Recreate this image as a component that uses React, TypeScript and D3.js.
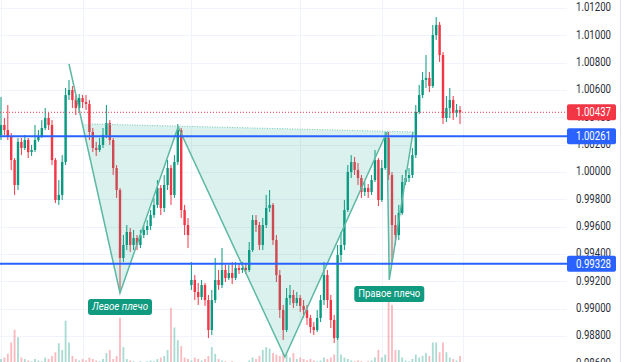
import React from 'react';
import * as d3 from 'd3';

const W = 625;
const H = 362;

const opens = [1.00271,1.00344,1.00307,1.00256,1.00088,0.99905,1.00220,1.00176,1.00234,1.00146,1.00161,1.00234,1.00263,1.00322,1.00395,1.00344,1.00088,0.99795,0.99832,1.00073,1.00563,1.00600,1.00527,1.00468,1.00541,1.00512,1.00498,1.00293,1.00176,1.00161,1.00198,1.00271,1.00359,1.00234,1.00029,0.99868,0.99371,0.99466,0.99561,0.99466,0.99517,0.99466,0.99539,0.99576,0.99605,0.99685,0.99759,0.99883,0.99737,0.99905,1.00029,0.99832,1.00073,1.00307,0.99722,0.99612,0.99173,0.99210,0.99122,0.99085,0.99173,0.99063,0.98844,0.99063,0.99210,0.99173,0.99283,0.99224,0.99261,0.99224,0.99298,0.99283,0.99298,0.99283,0.99429,0.99649,0.99612,0.99466,0.99612,0.99737,0.99759,0.99502,0.99246,0.98990,0.98844,0.99078,0.99100,0.99041,0.99078,0.99020,0.98990,0.98932,0.98866,0.98844,0.98932,0.99063,0.99246,0.99063,0.98917,0.98785,0.99393,0.99466,0.99722,1.00000,1.00073,1.00015,0.99956,0.99854,0.99883,0.99854,0.99941,1.00088,0.99795,1.00029,1.00249,0.99978,0.99612,0.99539,0.99700,0.99927,0.99956,0.99978,1.00124,1.00439,1.00563,1.00673,1.00688,1.00629,1.01002,1.01076,1.00856,1.00395,1.00468,1.00527,1.00432,1.00454];
const highs = [1.00549,1.00395,1.00490,1.00285,1.00102,1.00249,1.00249,1.00271,1.00249,1.00198,1.00344,1.00307,1.00380,1.00468,1.00432,1.00380,1.00102,0.99941,1.00124,1.00615,1.00673,1.00629,1.00563,1.00571,1.00563,1.00563,1.00527,1.00322,1.00220,1.00249,1.00322,1.00490,1.00380,1.00249,1.00051,0.99883,0.99539,0.99612,0.99590,0.99576,0.99539,0.99576,0.99612,0.99649,0.99722,0.99810,0.99941,0.99905,0.99978,1.00088,1.00051,1.00124,1.00351,1.00322,0.99759,0.99663,0.99341,0.99246,0.99188,0.99210,0.99188,0.99100,0.99137,0.99371,0.99283,0.99444,0.99320,0.99320,0.99341,0.99341,0.99327,0.99341,0.99327,0.99488,0.99685,0.99685,0.99634,0.99663,0.99832,0.99868,0.99773,0.99539,0.99283,0.99027,0.99151,0.99173,0.99137,0.99122,0.99100,0.99063,0.99027,0.98954,0.98902,0.98990,0.99100,0.99341,0.99283,0.99100,0.98954,0.99466,0.99561,0.99795,1.00051,1.00124,1.00110,1.00066,0.99978,0.99927,0.99912,0.99978,1.00161,1.00102,1.00088,1.00293,1.00293,1.00000,0.99685,0.99759,0.99978,1.00015,1.00029,1.00176,1.00490,1.00637,1.00732,1.00856,1.00732,1.01076,1.01134,1.01098,1.00878,1.00556,1.00615,1.00556,1.00498,1.00483];
const lows = [1.00234,1.00271,1.00234,1.00015,0.99832,0.99868,1.00124,1.00161,1.00102,1.00117,1.00146,1.00220,1.00249,1.00307,1.00307,1.00051,0.99773,0.99759,0.99795,1.00051,1.00527,1.00468,1.00417,1.00439,1.00468,1.00454,1.00234,1.00146,1.00117,1.00146,1.00176,1.00249,1.00198,0.99978,0.99810,0.99115,0.99341,0.99429,0.99415,0.99429,0.99429,0.99444,0.99517,0.99539,0.99576,0.99663,0.99737,0.99685,0.99707,0.99868,0.99759,0.99810,1.00051,0.99663,0.99539,0.99444,0.99137,0.99063,0.99027,0.99063,0.99020,0.98785,0.98807,0.99041,0.99137,0.99151,0.99195,0.99210,0.99180,0.99210,0.99254,0.99261,0.99254,0.99268,0.99415,0.99561,0.99429,0.99429,0.99590,0.99707,0.99466,0.99195,0.98932,0.98771,0.98829,0.99027,0.99005,0.99020,0.98976,0.98932,0.98881,0.98822,0.98807,0.98829,0.98902,0.99027,0.99005,0.98859,0.98749,0.98771,0.99341,0.99429,0.99707,0.99956,0.99978,0.99905,0.99810,0.99824,0.99810,0.99832,0.99927,0.99751,0.99781,1.00015,0.99941,0.99341,0.99466,0.99502,0.99685,0.99905,0.99927,0.99956,1.00102,1.00424,1.00541,1.00615,1.00585,1.00615,1.00966,1.00805,1.00351,1.00366,1.00395,1.00380,1.00402,1.00351];
const closes = [1.00344,1.00307,1.00256,1.00088,0.99905,1.00220,1.00176,1.00234,1.00146,1.00161,1.00234,1.00263,1.00322,1.00395,1.00344,1.00088,0.99795,0.99832,1.00073,1.00563,1.00600,1.00527,1.00468,1.00541,1.00512,1.00498,1.00293,1.00176,1.00161,1.00198,1.00271,1.00359,1.00234,1.00029,0.99868,0.99371,0.99466,0.99561,0.99466,0.99517,0.99466,0.99539,0.99576,0.99605,0.99685,0.99759,0.99883,0.99737,0.99905,1.00029,0.99832,1.00073,1.00307,0.99722,0.99612,0.99539,0.99210,0.99122,0.99085,0.99173,0.99063,0.98844,0.99063,0.99210,0.99173,0.99283,0.99224,0.99261,0.99224,0.99298,0.99283,0.99298,0.99283,0.99429,0.99649,0.99612,0.99466,0.99612,0.99737,0.99759,0.99502,0.99246,0.98990,0.98844,0.99078,0.99100,0.99041,0.99078,0.99020,0.98990,0.98932,0.98866,0.98844,0.98932,0.99063,0.99246,0.99063,0.98917,0.98785,0.99393,0.99466,0.99722,1.00000,1.00073,1.00015,0.99956,0.99854,0.99883,0.99854,0.99941,1.00088,0.99795,1.00029,1.00249,0.99978,0.99612,0.99539,0.99700,0.99927,0.99956,0.99978,1.00124,1.00439,1.00563,1.00673,1.00688,1.00629,1.01002,1.01076,1.00856,1.00395,1.00468,1.00527,1.00432,1.00454,1.00437];
const volumes = [8,10,15,30,47,37,10,8,6,5,8,6,5,10,8,12,17,29,20,59,30,12,8,6,8,6,10,8,6,5,8,16,20,8,12,63,24,8,6,5,4,5,4,5,6,5,8,10,12,20,76,50,33,25,10,8,6,10,8,6,8,12,24,15,8,6,5,4,5,4,3,4,3,6,10,8,12,20,24,22,16,14,12,16,14,10,16,8,10,8,6,8,6,5,6,10,8,10,14,40,14,10,8,6,5,6,5,4,5,6,10,20,10,14,90,80,20,20,10,6,5,8,14,10,12,16,12,30,30,17,30,17,10,8,6,12];

const priceTicks = [0.986, 0.988, 0.990, 0.992, 0.994, 0.996, 0.998, 1.000, 1.002, 1.004, 1.006, 1.008, 1.010, 1.012];
const timeGridIdx = [0, 24, 56, 88, 112, 136];
const lastPrice = 1.00437;
const levelPrices = [1.00261, 0.99328];

const patternIdx = [20.0, 35.0, 52.1, 83.5, 113.5, 114.2, 121.2];
const patternPrice = [1.00790, 0.99115, 1.00329, 0.98646, 1.00293, 0.99210, 1.00293];
const fillStartIdx = 24.0;
const neckIdx = [26.8, 121.2];
const neckPrice = [1.00351, 1.00293];
const shoulderLabels = ['Левое плечо', 'Правое плечо'];
const shoulderAt = [1, 5];
const shoulderItalic = [true, false];
const shoulderBoxW = [64, 70];

const GREEN = '#089981';
const RED = '#F23645';
const BLUE = '#2962FF';
const PLOT_R = 567;

export default function App() {
  const x = d3.scaleLinear().domain([0, 135]).range([1, 460]);
  const y = d3.scaleLinear().domain([0.988, 1.012]).range([336, 8]);
  const v = d3.scaleLinear().domain([0, 100]).range([365, 290]);
  const fmt = d3.format('.5f');

  const neckY = (i: number) => {
    const t = (i - neckIdx[0]) / (neckIdx[1] - neckIdx[0]);
    return y(neckPrice[0] + t * (neckPrice[1] - neckPrice[0]));
  };

  const pts: [number, number][] = patternIdx.map((d, k) => [x(d), y(patternPrice[k])]);
  const fillPts: [number, number][] = [[x(fillStartIdx), neckY(fillStartIdx)], ...pts.slice(1)];
  const line = d3.line();

  const bodyW = 2.4;

  return (
    <div>
      <style>{`body{margin:0;background:#fff}`}</style>
      <svg width={W} height={H} style={{ display: 'block', fontFamily: 'Roboto, "Noto Sans", sans-serif' }}>
        <rect x={0} y={0} width={W} height={H} fill="#fff" />
        {/* grid */}
        {priceTicks.map((p) => (
          <line key={'hg' + p} x1={0} x2={PLOT_R} y1={Math.round(y(p)) + 0.5} y2={Math.round(y(p)) + 0.5} stroke="#f0f3fa" strokeWidth={1} />
        ))}
        {timeGridIdx.map((i) => (
          <line key={'vg' + i} x1={Math.round(x(i)) + 0.5} x2={Math.round(x(i)) + 0.5} y1={0} y2={H} stroke="#f0f3fa" strokeWidth={1} />
        ))}
        {/* volume */}
        {volumes.map((vol, i) => (
          <rect key={'v' + i} x={x(i) - 0.9} width={1.8} y={v(vol)} height={v(0) - v(vol)}
            fill={closes[i] >= opens[i] ? 'rgba(8,153,129,0.35)' : 'rgba(242,54,69,0.35)'} />
        ))}
        {/* candles */}
        {closes.map((c, i) => {
          const o = opens[i];
          const up = c >= o;
          const col = up ? GREEN : RED;
          const top = y(Math.max(o, c));
          const bot = y(Math.min(o, c));
          return (
            <g key={'c' + i}>
              <line x1={x(i)} x2={x(i)} y1={y(highs[i])} y2={y(lows[i])} stroke={col} strokeWidth={1} />
              <rect x={x(i) - bodyW / 2} width={bodyW} y={top} height={Math.max(1, bot - top)} fill={col} />
            </g>
          );
        })}
        {/* pattern */}
        <path d={line([...fillPts, [x(neckIdx[1]), neckY(neckIdx[1])]]) + 'Z'} fill="rgba(34,171,148,0.17)" stroke="none" />
        <line x1={x(neckIdx[0])} y1={neckY(neckIdx[0])} x2={x(neckIdx[1])} y2={neckY(neckIdx[1])} stroke="#7cc8b8" strokeWidth={1} strokeDasharray="1 1.5" />
        <path d={line(pts) || ''} fill="none" stroke="#5cb8a3" strokeWidth={1.5} />
        {/* horizontal levels */}
        {levelPrices.map((p) => (
          <line key={'lv' + p} x1={0} x2={PLOT_R} y1={y(p)} y2={y(p)} stroke={BLUE} strokeWidth={2} />
        ))}
        <line x1={0} x2={PLOT_R} y1={y(lastPrice)} y2={y(lastPrice)} stroke={RED} strokeWidth={1} strokeDasharray="1 2" />
        {/* shoulder labels */}
        {shoulderLabels.map((t, k) => {
          const [px, py] = pts[shoulderAt[k]];
          const bw = shoulderBoxW[k];
          return (
            <g key={'sl' + k}>
              <rect x={px - bw / 2} y={py + 6} width={bw} height={16} rx={3} fill="#109a7f" />
              <text x={px} y={py + 14.5} textAnchor="middle" dominantBaseline="middle" fill="#fff" fontSize={11}
                fontStyle={shoulderItalic[k] ? 'italic' : 'normal'} textLength={bw - 8} lengthAdjust="spacingAndGlyphs">{t}</text>
            </g>
          );
        })}
        {/* axis */}
        <line x1={620.5} x2={620.5} y1={0} y2={H} stroke="#e0e3eb" />
        {priceTicks.map((p) => (
          <text key={'t' + p} x={576} y={y(p)} dominantBaseline="middle" fontSize={12} fill="#2a2e39"
            textLength={35} lengthAdjust="spacingAndGlyphs">{fmt(p)}</text>
        ))}
        {[lastPrice, ...levelPrices].map((p, k) => (
          <g key={'pl' + p}>
            <rect x={PLOT_R} y={y(p) - 8} width={49} height={16} rx={2} fill={k === 0 ? RED : BLUE} />
            <text x={576} y={y(p) + 0.5} dominantBaseline="middle" fontSize={12} fill="#fff"
              textLength={35} lengthAdjust="spacingAndGlyphs">{fmt(p)}</text>
          </g>
        ))}
      </svg>
    </div>
  );
}
